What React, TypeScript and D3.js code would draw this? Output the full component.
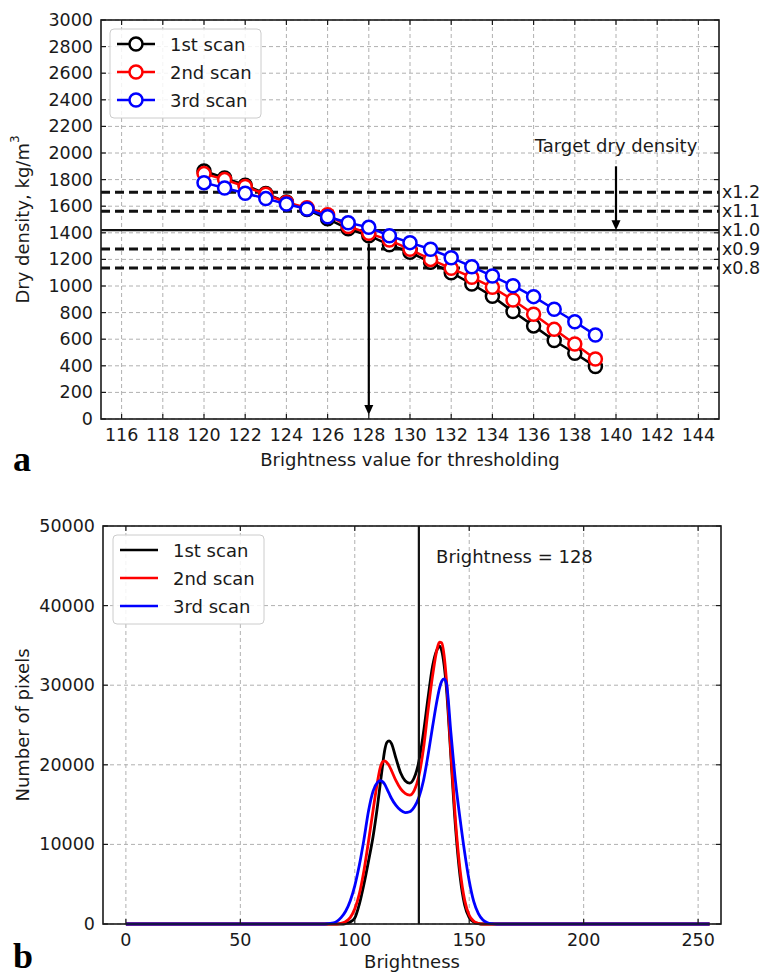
import React from "react";
import * as d3 from "d3";

// ---- Panel a: dry density vs. brightness threshold ----
const thresholds = [120, 121, 122, 123, 124, 125, 126, 127, 128, 129, 130, 131, 132, 133, 134, 135, 136, 137, 138, 139];
const scan1Density = [1865, 1812, 1758, 1695, 1632, 1575, 1505, 1430, 1378, 1310, 1253, 1178, 1100, 1015, 922, 808, 700, 590, 494, 394];
const scan2Density = [1845, 1800, 1748, 1690, 1628, 1588, 1535, 1448, 1396, 1345, 1276, 1200, 1133, 1065, 990, 895, 787, 674, 564, 451];
const scan3Density = [1777, 1737, 1697, 1657, 1617, 1579, 1521, 1476, 1441, 1378, 1326, 1276, 1213, 1145, 1075, 1002, 920, 825, 731, 631];
const scanLabels = ["1st scan", "2nd scan", "3rd scan"];
const scanColors = ["#000000", "#ff0000", "#0000ff"];
const targetDensity = 1420;
const targetFactors = [1.2, 1.1, 1.0, 0.9, 0.8];
const factorLabels = ["x1.2", "x1.1", "x1.0", "x0.9", "x0.8"];
const selectedThreshold = 128;
const selectedArrowTop = 1320;
const targetArrowTop = 1900;

// ---- Panel b: brightness histograms ----
const brightnessBins = [0, 86, 88, 90, 92, 94, 96, 98, 100, 102, 104, 106, 108, 110, 111, 112, 113, 114, 115, 116, 118, 120, 122, 124, 126, 128, 130, 132, 134, 136, 137, 138, 139, 140, 142, 144, 146, 148, 150, 152, 154, 156, 158, 160, 162, 255];
const scan1Pixels = [0, 0, 0, 0, 0, 0, 60, 250, 750, 2500, 5000, 7900, 11000, 15000, 17300, 19600, 21700, 22800, 23000, 22700, 20800, 19000, 18000, 17700, 18400, 20400, 24000, 28400, 32400, 34500, 34900, 34300, 32600, 29800, 21000, 12200, 6000, 2400, 800, 250, 60, 0, 0, 0, 0, 0];
const scan2Pixels = [0, 0, 0, 0, 0, 80, 300, 800, 1900, 3800, 6700, 10400, 14300, 18000, 19500, 20300, 20500, 20300, 19900, 19300, 18000, 17000, 16400, 16200, 16800, 18600, 22000, 26800, 31200, 34600, 35400, 35300, 33800, 30800, 21500, 13000, 6800, 3000, 1100, 350, 80, 0, 0, 0, 0, 0];
const scan3Pixels = [0, 0, 30, 100, 300, 800, 1600, 2900, 4800, 7400, 10600, 14200, 16700, 17800, 18000, 17900, 17600, 17000, 16400, 15800, 14900, 14300, 14000, 14100, 14700, 15900, 18000, 21200, 24800, 28200, 29600, 30500, 30800, 30300, 24000, 17900, 13200, 9000, 5400, 2800, 1300, 500, 150, 40, 0, 0];
const brightnessTicks = [0, 50, 100, 150, 200, 250];
const pixelTicks = [0, 10000, 20000, 30000, 40000, 50000];
const markedBrightness = 128;

const FONT = "'DejaVu Sans', sans-serif";
const TICK_FS = 17.5;
const LABEL_FS = 18;
const INK = "#1a1a1a";

type FrameProps = {
  x: d3.ScaleLinear<number, number>;
  y: d3.ScaleLinear<number, number>;
  xTicks: number[];
  yTicks: number[];
};

function Grid({ x, y, xTicks, yTicks }: FrameProps) {
  const [x0, x1] = x.range();
  const [y1, y0] = y.range();
  return (
    <g stroke="#b0b0b0" strokeWidth={1} strokeDasharray="4,3" fill="none">
      {xTicks.map((t) => (
        <line key={"gx" + t} x1={x(t)} x2={x(t)} y1={y0} y2={y1} />
      ))}
      {yTicks.map((t) => (
        <line key={"gy" + t} x1={x0} x2={x1} y1={y(t)} y2={y(t)} />
      ))}
    </g>
  );
}

function Frame({ x, y, xTicks, yTicks }: FrameProps) {
  const [x0, x1] = x.range();
  const [y1, y0] = y.range();
  const len = 5;
  return (
    <g>
      <g stroke={INK} strokeWidth={1.2}>
        {xTicks.map((t) => (
          <g key={"tx" + t}>
            <line x1={x(t)} x2={x(t)} y1={y1} y2={y1 - len} />
            <line x1={x(t)} x2={x(t)} y1={y0} y2={y0 + len} />
          </g>
        ))}
        {yTicks.map((t) => (
          <g key={"ty" + t}>
            <line x1={x0} x2={x0 + len} y1={y(t)} y2={y(t)} />
            <line x1={x1} x2={x1 - len} y1={y(t)} y2={y(t)} />
          </g>
        ))}
      </g>
      <rect x={x0} y={y0} width={x1 - x0} height={y1 - y0} fill="none" stroke={INK} strokeWidth={1.6} />
      <g fontFamily={FONT} fontSize={TICK_FS} fill={INK}>
        {xTicks.map((t) => (
          <text key={"lx" + t} x={x(t)} y={y1 + 22} textAnchor="middle">
            {t}
          </text>
        ))}
        {yTicks.map((t) => (
          <text key={"ly" + t} x={x0 - 8} y={y(t)} textAnchor="end" dominantBaseline="central">
            {t}
          </text>
        ))}
      </g>
    </g>
  );
}

function ArrowHead({ x, y, dir }: { x: number; y: number; dir: 1 | -1 }) {
  // filled triangle with tip at (x, y), pointing down (dir=1) or up (dir=-1)
  const w = 4.5;
  const h = 10;
  return <path d={`M${x},${y} L${x - w},${y - dir * h} L${x + w},${y - dir * h} Z`} fill="#000" />;
}

function Legend({ x, y, withMarkers }: { x: number; y: number; withMarkers: boolean }) {
  const rowH = 28;
  return (
    <g>
      <rect x={x} y={y} width={151} height={89} rx={4} fill="#fff" fillOpacity={0.85} stroke="#cccccc" strokeWidth={1} />
      {scanLabels.map((lab, i) => {
        const cy = y + 15 + i * rowH;
        return (
          <g key={lab}>
            <line x1={x + 7} x2={x + 45} y1={cy} y2={cy} stroke={scanColors[i]} strokeWidth={2.5} />
            {withMarkers && <circle cx={x + 26} cy={cy} r={6.5} fill="#fff" stroke={scanColors[i]} strokeWidth={2.5} />}
            <text x={x + 60} y={cy} dominantBaseline="central" fontFamily={FONT} fontSize={LABEL_FS} fill={INK}>
              {lab}
            </text>
          </g>
        );
      })}
    </g>
  );
}

function DensityPanel() {
  const x = d3.scaleLinear().domain([115, 145]).range([101, 719]);
  const y = d3.scaleLinear().domain([0, 3000]).range([419, 20]);
  const xTicks = x.ticks(15);
  const yTicks = y.ticks(15);
  const series = [scan1Density, scan2Density, scan3Density];
  const line = d3
    .line<number>()
    .x((_, i) => x(thresholds[i]))
    .y((d) => y(d));
  const [x0, x1] = x.range();
  return (
    <g>
      <Grid x={x} y={y} xTicks={xTicks} yTicks={yTicks} />
      {targetFactors.map((f, i) => (
        <g key={factorLabels[i]}>
          <line
            x1={x0}
            x2={x1}
            y1={y(targetDensity * f)}
            y2={y(targetDensity * f)}
            stroke="#111"
            strokeWidth={f === 1 ? 2.2 : 3}
            strokeDasharray={f === 1 ? undefined : "9,5"}
          />
          <text x={x1 + 3} y={y(targetDensity * f)} dominantBaseline="central" fontFamily={FONT} fontSize={TICK_FS} fill={INK}>
            {factorLabels[i]}
          </text>
        </g>
      ))}
      {series.map((s, k) => (
        <g key={k}>
          <path d={line(s) || ""} fill="none" stroke={scanColors[k]} strokeWidth={2.5} />
          {s.map((d, i) => (
            <circle key={i} cx={x(thresholds[i])} cy={y(d)} r={6.5} fill="#fff" stroke={scanColors[k]} strokeWidth={2.5} />
          ))}
        </g>
      ))}
      {/* arrow from the target line down to the chosen threshold */}
      <line x1={x(selectedThreshold)} x2={x(selectedThreshold)} y1={y(selectedArrowTop)} y2={y(0) - 12} stroke="#000" strokeWidth={2.2} />
      <ArrowHead x={x(selectedThreshold)} y={y(0) - 4} dir={1} />
      {/* target dry density annotation */}
      <text x={x(140)} y={y(2010)} textAnchor="middle" fontFamily={FONT} fontSize={LABEL_FS} fill={INK}>
        Target dry density
      </text>
      <line x1={x(140)} x2={x(140)} y1={y(targetArrowTop)} y2={y(targetDensity) - 8} stroke="#000" strokeWidth={2.2} />
      <ArrowHead x={x(140)} y={y(targetDensity)} dir={1} />
      <Frame x={x} y={y} xTicks={xTicks} yTicks={yTicks} />
      <Legend x={110} y={29} withMarkers={true} />
      <text
        transform={`translate(${22},${(y(0) + y(3000)) / 2}) rotate(-90)`}
        textAnchor="middle"
        dominantBaseline="central"
        fontFamily={FONT}
        fontSize={LABEL_FS}
        fill={INK}
      >
        Dry density, kg/m<tspan dy={-7} fontSize={12}>3</tspan>
      </text>
      <text x={(x0 + x1) / 2} y={466} textAnchor="middle" fontFamily={FONT} fontSize={LABEL_FS} fill={INK}>
        Brightness value for thresholding
      </text>
    </g>
  );
}

function HistogramPanel() {
  const x = d3.scaleLinear().domain([-10, 260]).range([103, 721]);
  const y = d3.scaleLinear().domain([0, 50000]).range([924, 526]);
  const series = [scan1Pixels, scan2Pixels, scan3Pixels];
  const line = d3
    .line<number>()
    .x((_, i) => x(brightnessBins[i]))
    .y((d) => y(d))
    .curve(d3.curveMonotoneX);
  const [x0, x1] = x.range();
  return (
    <g>
      <Grid x={x} y={y} xTicks={brightnessTicks} yTicks={pixelTicks} />
      {series.map((s, k) => (
        <path key={k} d={line(s) || ""} fill="none" stroke={scanColors[k]} strokeWidth={2.8} strokeLinejoin="round" />
      ))}
      <line x1={x(markedBrightness)} x2={x(markedBrightness)} y1={y(0)} y2={y(50000)} stroke="#111" strokeWidth={2.2} />
      <text x={x(135.5)} y={y(45300)} fontFamily={FONT} fontSize={LABEL_FS} fill={INK}>
        Brightness = {markedBrightness}
      </text>
      <Frame x={x} y={y} xTicks={brightnessTicks} yTicks={pixelTicks} />
      <Legend x={113} y={535} withMarkers={false} />
      <text
        transform={`translate(${22},${(y(0) + y(50000)) / 2}) rotate(-90)`}
        textAnchor="middle"
        dominantBaseline="central"
        fontFamily={FONT}
        fontSize={LABEL_FS}
        fill={INK}
      >
        Number of pixels
      </text>
      <text x={(x0 + x1) / 2} y={968} textAnchor="middle" fontFamily={FONT} fontSize={LABEL_FS} fill={INK}>
        Brightness
      </text>
    </g>
  );
}

export default function App() {
  return (
    <svg
      width={761}
      height={975}
      viewBox="0 0 761 975"
      style={{ position: "absolute", left: 0, top: 0, background: "#fff" }}
    >
      <rect width={761} height={975} fill="#fff" />
      <DensityPanel />
      <HistogramPanel />
      <text x={13} y={471} fontFamily="'Liberation Serif', serif" fontWeight="bold" fontSize={36} fill="#000">
        a
      </text>
      <text x={13} y={968} fontFamily="'Liberation Serif', serif" fontWeight="bold" fontSize={36} fill="#000">
        b
      </text>
    </svg>
  );
}
